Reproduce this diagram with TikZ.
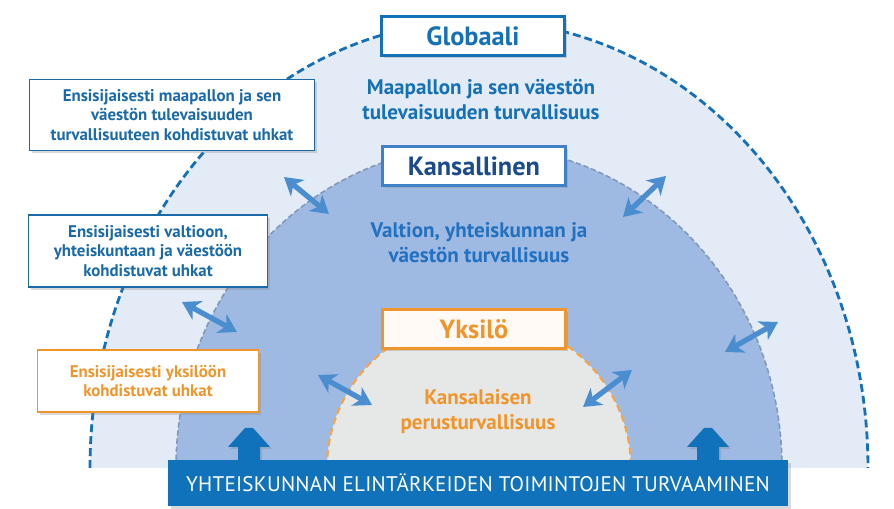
\documentclass[tikz,border=0pt]{standalone}
\usepackage{fontspec}
\setmainfont{PT Sans}
\usepackage{xcolor}
\usepackage{tikz}
\usetikzlibrary{positioning, arrows.meta, shadows}

\definecolor{globblue}{HTML}{1570B5}
\definecolor{natblue}{HTML}{1C4B8C}
\definecolor{natframe}{HTML}{3F80C6}
\definecolor{valtblue}{HTML}{2270C0}
\definecolor{threatblue}{HTML}{1A6AA8}
\definecolor{skyfill}{HTML}{E3EBF7}
\definecolor{natfill}{HTML}{9FBAE2}
\definecolor{natdash}{HTML}{8298B8}
\definecolor{corefill}{HTML}{E6E8E8}
\definecolor{orng}{HTML}{F0952C}
\definecolor{arrowblue}{HTML}{4A8ED0}
\definecolor{basefill}{HTML}{0F72BA}

\begin{document}
\begin{tikzpicture}[x=0.02cm, y=0.02cm,
    level/.style={rectangle, draw=#1, text=#1, line width=2.2pt, fill=white,
                  minimum width=3.66cm, minimum height=0.78cm,
                  font=\fontsize{15}{16}\selectfont\bfseries,
                  drop shadow={shadow xshift=1.2pt, shadow yshift=-1.2pt, opacity=0.3}},
    threat/.style={rectangle, draw=#1, text=#1, line width=0.8pt, fill=white, align=center,
                   font=\fontsize{9.6}{11.3}\selectfont\bfseries,
                   drop shadow={shadow xshift=1.5pt, shadow yshift=-1.5pt, opacity=0.3}},
    areatext/.style={align=center, text=#1, font=\fontsize{12}{14.2}\selectfont\bfseries},
    twoway/.style={arrows={Stealth[length=10pt, width=12pt, inset=3pt]-Stealth[length=10pt, width=12pt, inset=3pt]},
                   line width=3pt, arrowblue},
    basebar/.style={rectangle, fill=basefill, text=white, minimum width=12.4cm, minimum height=0.92cm,
                    font=\fontsize{12}{14}\selectfont\addfontfeatures{LetterSpace=1.2},
                    drop shadow={shadow xshift=1.5pt, shadow yshift=-1.5pt, opacity=0.3}},
    uparrow/.style={fill=basefill, drop shadow={shadow xshift=1.2pt, shadow yshift=-1.2pt, opacity=0.3}}
  ]
  \useasboundingbox (0,0) rectangle (894,509);

  \fill[skyfill] (90,41) arc[start angle=180, end angle=0, x radius=389, y radius=447] -- cycle;
  \draw[globblue, line width=1.6pt, dash pattern=on 4.5pt off 2.3pt]
    (90,41) arc[start angle=180, end angle=0, x radius=389, y radius=447];
  \fill[natfill] (176,41) arc[start angle=180, end angle=0, x radius=303, y radius=322] -- cycle;
  \draw[natdash, line width=0.9pt, dash pattern=on 3pt off 1.6pt]
    (176,41) arc[start angle=180, end angle=0, x radius=303, y radius=322];
  \fill[corefill] (327,41) arc[start angle=180, end angle=0, x radius=152, y radius=150] -- cycle;
  \draw[orng!85, line width=1.2pt, dash pattern=on 4pt off 2.3pt]
    (327,41) arc[start angle=180, end angle=0, x radius=152, y radius=150];

  \node[level=globblue] (glob) at (473,473) {Globaali};
  \node[level=natframe, text=natblue] (kans) at (474,343) {Kansallinen};
  \node[level=orng, fill=white!96!orange] (yks) at (474,180) {Yksilö};

  \node[areatext=globblue] (maap) at (481,409) {Maapallon ja sen väestön\\tulevaisuuden turvallisuus};
  \node[areatext=valtblue] (valt) at (479,266) {Valtion, yhteiskunnan ja\\väestön turvallisuus};
  \node[areatext=orng] (kansal) at (478,97) {Kansalaisen\\perusturvallisuus};

  \draw[twoway] (284,332) -- (329,295);
  \draw[twoway] (666,333) -- (623,292);
  \draw[twoway] (182,207) -- (237,177);
  \draw[twoway] (778,187) -- (725,157);
  \draw[twoway] (318,134) -- (372,104);
  \draw[twoway] (632,139) -- (583,102);

  \node[threat=threatblue, minimum width=5.71cm, minimum height=1.42cm] (thglob) at (172,394)
    {Ensisijaisesti maapallon ja sen\\väestön tulevaisuuden\\turvallisuuteen kohdistuvat uhkat};
  \node[threat=threatblue, minimum width=4.77cm, minimum height=1.44cm] (thnat) at (148,258)
    {Ensisijaisesti valtioon,\\yhteiskuntaan ja väestöön\\kohdistuvat uhkat};
  \node[threat=orng, minimum width=4.43cm, minimum height=1.24cm] (thyks) at (148,128)
    {Ensisijaisesti yksilöön\\kohdistuvat uhkat};

  \foreach \cx in {249,708}
    \fill[uparrow] (\cx-11,45) -- (\cx-11,62) -- (\cx-21,62) -- (\cx-4,81) -- (\cx+4,81)
      -- (\cx+21,62) -- (\cx+11,62) -- (\cx+11,45) -- cycle;
  \node[basebar] (base) at (478,26) {YHTEISKUNNAN ELINTÄRKEIDEN TOIMINTOJEN TURVAAMINEN};
\end{tikzpicture}
\end{document}
